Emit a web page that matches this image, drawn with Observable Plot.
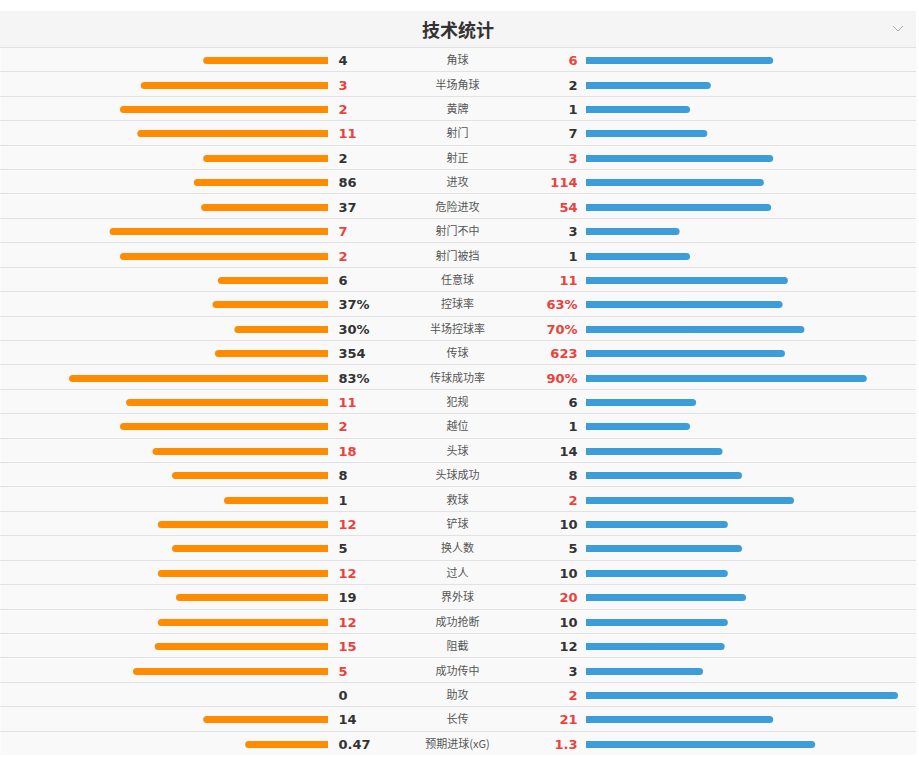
<!DOCTYPE html>
<html>
<head>
<meta charset="utf-8">
<script src="https://cdn.jsdelivr.net/npm/d3@7"></script>
<script src="https://cdn.jsdelivr.net/npm/@observablehq/plot@0.6"></script>
<style>
  html, body { margin: 0; padding: 0; background: #fff; }
  #wrap { width: 916px; margin-top: 11px; }
  #head {
    position: relative; height: 36px; background: #f5f5f5;
    font: bold 18px "Noto Sans CJK SC", sans-serif; color: #333;
    text-align: center; line-height: 36px;
  }
  #head svg { position: absolute; right: 12px; top: 14px; }
  #chart svg { display: block; max-width: none !important; }
</style>
</head>
<body>
<div id="wrap">
  <div id="head">技术统计<svg width="12" height="8" viewBox="0 0 12 8"><polyline points="1,1 6,6 11,1" fill="none" stroke="#aaa" stroke-width="1"/></svg></div>
  <div id="chart"></div>
</div>
<script>
// match statistics: home (left) vs away (right)
const labels = ["角球","半场角球","黄牌","射门","射正","进攻","危险进攻","射门不中","射门被挡","任意球",
  "控球率","半场控球率","传球","传球成功率","犯规","越位","头球","头球成功","救球","铲球",
  "换人数","过人","界外球","成功抢断","阻截","成功传中","助攻","长传","预期进球(xG)"];
const home = [4,3,2,11,2,86,37,7,2,6, 37,30,354,83,11,2,18,8,1,12, 5,12,19,12,15,5,0,14,0.47];
const away = [6,2,1,7,3,114,54,3,1,11, 63,70,623,90,6,1,14,8,2,10, 5,10,20,10,12,3,2,21,1.3];
// rows whose values are percentages (bar = value / 100)
const percent = [false,false,false,false,false,false,false,false,false,false,
  true,true,false,true,false,false,false,false,false,false,
  false,false,false,false,false,false,false,false,false];

const ORANGE = "#ff8c00", BLUE = "#3d9dd8", RED = "#e8433d", DARK = "#333";

const rows = labels.map((label, i) => {
  const a = home[i], b = away[i];
  const pa = percent[i] ? a / 100 : (a + b ? a / (a + b) : 0);
  const pb = percent[i] ? b / 100 : (a + b ? b / (a + b) : 0);
  const fmt = v => percent[i] ? v + "%" : String(v);
  return {
    i, label, pa, pb,
    ta: fmt(a), tb: fmt(b),
    ca: a > b ? RED : DARK,
    cb: b > a ? RED : DARK
  };
});

const W = 919, H = 708;
const UNIT = 312;      // pixels for a full share
const CX = 457;        // centre column
const GAP = 129;       // half gap between the two bar groups
const R = 3.5;         // bar half-thickness / end radius
const n = labels.length;
const left = rows.filter(d => d.pa > 0);
const right = rows.filter(d => d.pb > 0);
const mid = d => d.i + 0.5;
// bars: y1 = y2 = row centre, grown to 7px with negative insets
const barY = {y1: mid, y2: mid, insetTop: -R, insetBottom: -R, dy: 1.5};

const chart = Plot.plot({
  width: W, height: H,
  marginLeft: 0, marginRight: 3, marginTop: 0, marginBottom: 0,
  x: {domain: [-CX / UNIT, (916 - CX) / UNIT], range: [0, 916], axis: null},
  y: {domain: [0, n], range: [0, H], round: true, axis: null},
  style: {overflow: "visible"},
  marks: [
    Plot.frame({fill: "#f9f9f9", stroke: null}),
    Plot.ruleY(d3.range(0, n + 1), {stroke: "#e2e2e2", strokeWidth: 1}),
    // left bars: rounded outer end, squared inner half
    Plot.rect(left, {x1: d => -d.pa, x2: 0, ...barY, rx: R, dx: -GAP, fill: ORANGE}),
    Plot.rect(left, {x1: d => -d.pa / 2, x2: 0, ...barY, dx: -GAP, fill: ORANGE}),
    // right bars
    Plot.rect(right, {x1: 0, x2: d => d.pb, ...barY, rx: R, dx: GAP, fill: BLUE}),
    Plot.rect(right, {x1: 0, x2: d => d.pb / 2, ...barY, dx: GAP, fill: BLUE}),
    // values
    Plot.text(rows, {x: 0, y: mid, text: "ta", fill: "ca", dx: -119, textAnchor: "start",
      fontSize: 13, fontWeight: "bold", fontFamily: "DejaVu Sans, sans-serif", dy: 1}),
    Plot.text(rows, {x: 0, y: mid, text: "tb", fill: "cb", dx: 120, textAnchor: "end",
      fontSize: 13, fontWeight: "bold", fontFamily: "DejaVu Sans, sans-serif", dy: 1}),
    // category labels
    Plot.text(rows, {x: 0, y: mid, text: "label", fill: "#555", fontSize: 11,
      fontFamily: "Noto Sans CJK SC, sans-serif", dy: 1})
  ]
});
document.getElementById("chart").appendChild(chart);
</script>
</body>
</html>
